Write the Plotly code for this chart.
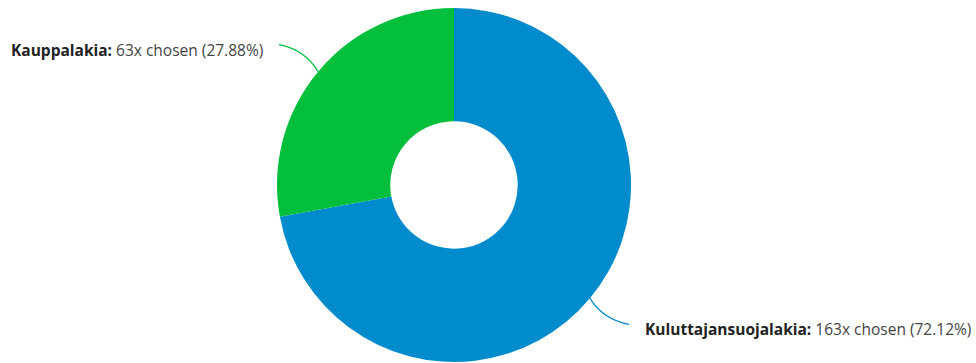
import math
import plotly.graph_objects as go

labels = ["Kuluttajansuojalakia", "Kauppalakia"]
counts = [163, 63]
colors = ["#008bcc", "#03bf3b"]

W, H = 976, 363
CX, CY, R = 454, 185, 177
HOLE = 0.36

total = sum(counts)
fig = go.Figure(go.Pie(
    labels=labels, values=counts, sort=False, direction="clockwise", rotation=0,
    hole=HOLE, marker=dict(colors=colors, line=dict(width=0)),
    textinfo="none", hoverinfo="label+value+percent",
    domain=dict(x=[(CX - R) / W, (CX + R) / W], y=[(H - CY - R) / H, (H - CY + R) / H]),
))

def px2paper(x, y):
    return x / W, (H - y) / H

shapes, annotations = [], []
cum = 0
for lab, cnt, col in zip(labels, counts, colors):
    frac = cnt / total
    mid = (cum + frac / 2) * 2 * math.pi  # clockwise from 12 o'clock
    cum += frac
    sx, sy = math.sin(mid), -math.cos(mid)
    ex, ey = CX + R * sx, CY + R * sy
    side = 1 if sx >= 0 else -1
    tx, ty = ex + side * 39, (ey + 26) if side > 0 else (ey - 27)
    cx_, cy_ = tx - side * 26, ty - 5 * (1 if side > 0 else -1)
    p0 = px2paper(ex, ey); pc = px2paper(cx_, cy_); p1 = px2paper(tx, ty)
    shapes.append(dict(type="path", xref="paper", yref="paper",
                       path=f"M {p0[0]},{p0[1]} Q {pc[0]},{pc[1]} {p1[0]},{p1[1]}",
                       line=dict(color=col, width=1.2)))
    lx, ly = px2paper(tx + side * 14, ty + (5 if side > 0 else 5))
    pct = round(frac * 100, 2)
    annotations.append(dict(
        x=lx, y=ly, xref="paper", yref="paper", showarrow=False,
        xanchor="left" if side > 0 else "right", yanchor="middle",
        text=f"<b><span style='color:#222'>{lab}:</span></b> {cnt}x chosen ({pct:.2f}%)",
        font=dict(family="Open Sans", size=15.5, color="#444")))

fig.update_layout(width=W, height=H, margin=dict(l=0, r=0, t=0, b=0),
                  paper_bgcolor="white", plot_bgcolor="white", showlegend=False,
                  shapes=shapes, annotations=annotations)
fig.write_html("out.html")
